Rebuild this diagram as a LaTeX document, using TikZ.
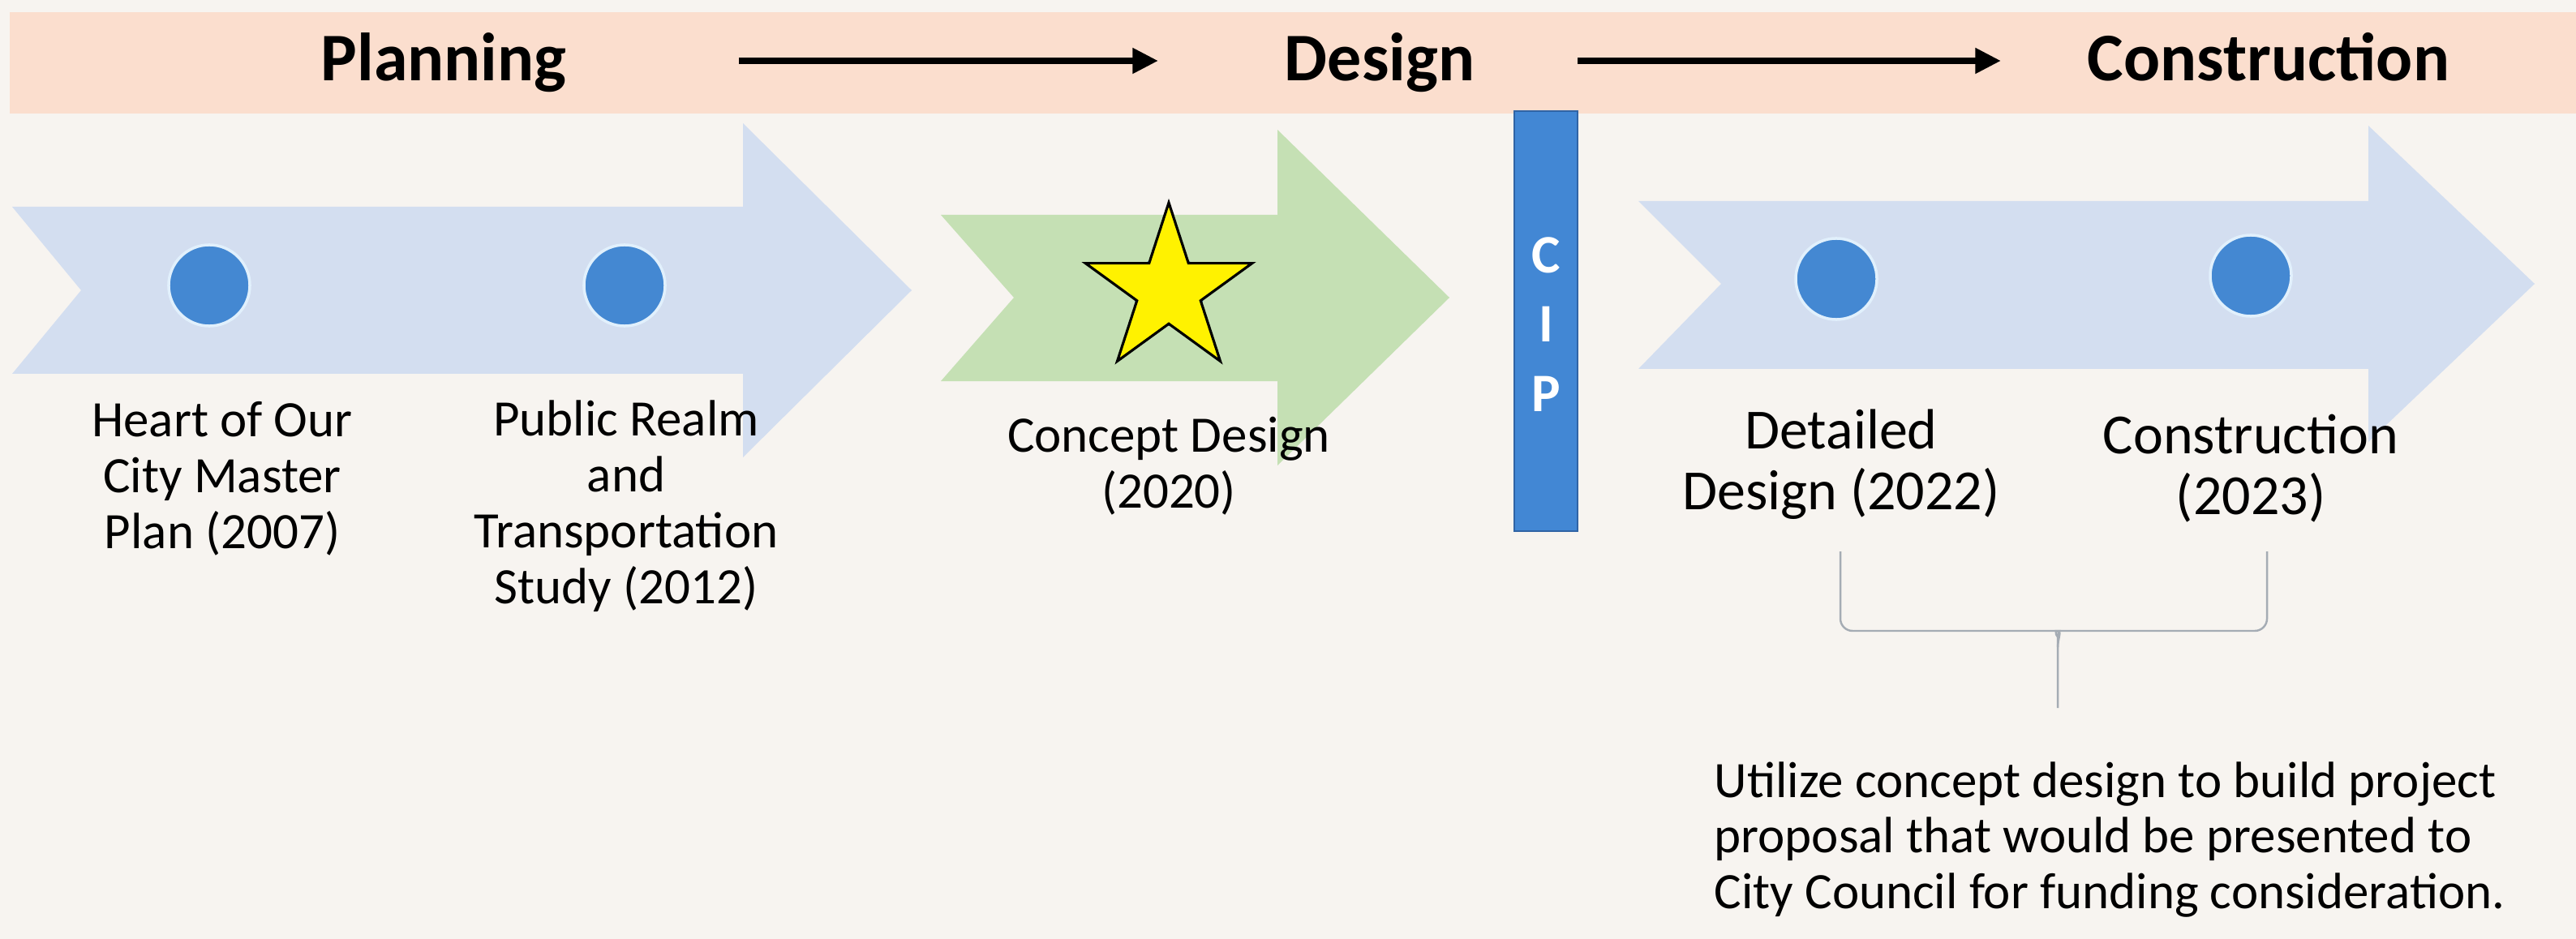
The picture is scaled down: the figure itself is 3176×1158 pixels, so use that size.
\documentclass[tikz,border=0pt]{standalone}
\usepackage{fontspec}
\setmainfont{Carlito}
\usetikzlibrary{arrows.meta,shapes.geometric}
\definecolor{bg}{RGB}{247,244,240}
\definecolor{peach}{RGB}{251,222,206}
\definecolor{chevblue}{RGB}{211,222,240}
\definecolor{chevgreen}{RGB}{197,224,180}
\definecolor{dotblue}{RGB}{68,136,210}
\definecolor{dotring}{RGB}{225,240,252}
\definecolor{cipblue}{RGB}{66,135,212}
\definecolor{cipedge}{RGB}{48,100,165}
\definecolor{bracecol}{RGB}{165,172,180}
\begin{document}
\begin{tikzpicture}[x=0.01cm,y=-0.01cm,
  title/.style={font=\fontsize{23.9}{28}\selectfont\bfseries, anchor=base, inner sep=0},
  lab/.style={font=\fontsize{17.9}{19.6}\selectfont, align=center, anchor=base, inner sep=0},
  labR/.style={font=\fontsize{19.9}{21.2}\selectfont, align=center, anchor=base, inner sep=0},
  dot/.style={circle, fill=dotblue, draw=dotring, line width=1pt, minimum size=1.0cm, inner sep=0},
  flow/.style={line width=2.4pt, -{Triangle[length=9pt,width=8.5pt]}},
  brace/.style={draw=bracecol, line width=0.7pt, rounded corners=0.15cm},
]
\useasboundingbox (0,0) rectangle (3176,1158);
\fill[bg] (0,0) rectangle (3176,1158);
\fill[peach] (12,15) rectangle (3176,140);

% chevrons
\fill[chevblue] (15,255) -- (916,255) -- (916,152) -- (1124,358) -- (916,564) -- (916,461) -- (15,461) -- (100,358) -- cycle;
\fill[chevgreen] (1160,265) -- (1575,265) -- (1575,160) -- (1787,367) -- (1575,574) -- (1575,470) -- (1160,470) -- (1250,367) -- cycle;
\fill[chevblue] (2020,248) -- (2920,248) -- (2920,155) -- (3125,350) -- (2920,545) -- (2920,455) -- (2020,455) -- (2122,350) -- cycle;

% milestones
\node[dot] (d1) at (258,352) {};
\node[dot] (d2) at (770,352) {};
\node[dot] (d3) at (2264,344) {};
\node[dot] (d4) at (2775,340) {};
\node[circle, fill=dotblue, minimum size=0.88cm, inner sep=0] (starbg) at (1441,358) {};
\node[star, star points=5, star point ratio=2.618, minimum size=2.16cm, inner sep=0,
      fill=yellow, draw=black, line width=0.9pt] (star) at (1441,358) {};

% CIP bar
\node[draw=cipedge, fill=cipblue, line width=0.6pt, minimum width=0.78cm, minimum height=5.18cm, inner sep=0] (cip) at (1906,396) {};
\node[font=\fontsize{19}{24.2}\selectfont\bfseries, text=white, align=center, inner sep=0] (ciptext) at (1906,400) {C\\I\\P};

% titles
\node[title] (plan) at (547,100) {Planning};
\node[title] (design) at (1701,100) {Design};
\node[title] (constr) at (2797,100) {Construction};
\coordinate (f1s) at (911,75);
\coordinate (f1e) at (1428,75);
\coordinate (f2s) at (1945,75);
\coordinate (f2e) at (2467,75);
\draw[flow] (f1s) -- (f1e);
\draw[flow] (f2s) -- (f2e);

% labels (base anchor = baseline of the last line)
\node[lab] (l1) at (274,676) {Heart of Our\\City Master\\Plan (2007)};
\node[lab] (l2) at (772,744) {Public Realm\\and\\Transportation\\Study (2012)};
\node[lab] (l3) at (1441,626) {Concept Design\\(2020)};
\node[labR] (l4) at (2270,628) {Detailed\\Design (2022)};
\node[labR] (l5) at (2775,634) {Construction\\(2023)};
\node[font=\fontsize{17.9}{19.4}\selectfont, align=left, anchor=base west, inner sep=0] (note) at (2113,1120)
  {Utilize concept design to build project\\proposal that would be presented to\\City Council for funding consideration.};

% brace
\draw[brace] (2269,680) -- (2269,778) -- (2522,778) to[out=0,in=90] (2537,798) -- (2537,873);
\draw[brace] (2795,680) -- (2795,778) -- (2552,778) to[out=180,in=90] (2537,798);
\end{tikzpicture}
\end{document}
